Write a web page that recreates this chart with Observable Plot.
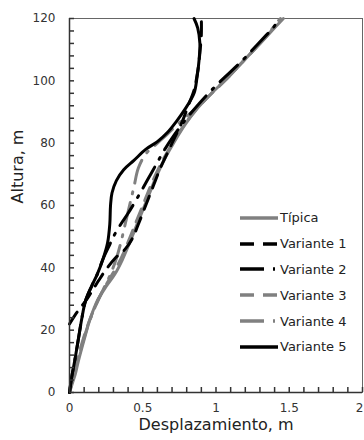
<!DOCTYPE html>
<html><head><meta charset="utf-8">
<script src="https://cdn.jsdelivr.net/npm/d3@7"></script>
<script src="https://cdn.jsdelivr.net/npm/@observablehq/plot@0.6"></script>
<style>
body{margin:0;background:#fff;font-family:"DejaVu Sans",sans-serif;}
#wrap{position:relative;width:364px;height:440px;overflow:hidden;background:#fff;}
#legend{position:absolute;left:240px;top:205px;}
.row{display:flex;align-items:center;height:25.8px;font-size:13px;color:#222;white-space:nowrap;}
.row svg{margin-right:2px;display:block;}
</style></head><body><div id="wrap"><div id="legend"></div></div>
<script>
// ---- data (displacement m, height m) ----
const seriesNames = ["Típica", "Variante 1", "Variante 2", "Variante 3", "Variante 4", "Variante 5"];
const seriesColors = ["#808080", "#000000", "#000000", "#808080", "#808080", "#000000"];
const seriesDash = [null, "14,9", "24,9,2,9", "14,9", "24,9,2,9", null];

const tipica = [[0,0],[0.02,3],[0.04,6],[0.06,10],[0.10,17],[0.14,23.5],[0.19,29.5],[0.25,34],[0.31,38],[0.36,42.5],[0.41,48],[0.47,55],[0.53,62],[0.59,69],[0.65,75],[0.71,80],[0.79,86],[0.87,91],[0.97,96],[1.08,101],[1.18,106],[1.27,110.5],[1.35,114.5],[1.41,117.5],[1.46,120]];
const variante1 = [[0,22],[0.04,25],[0.08,27.5],[0.12,30],[0.16,33],[0.20,36],[0.25,39.5],[0.31,43],[0.38,46],[0.43,49.5],[0.47,54],[0.52,60],[0.57,66],[0.62,72],[0.67,77],[0.72,82],[0.77,87],[0.81,92],[0.85,97],[0.875,103],[0.89,109],[0.90,115],[0.90,120]];
const variante2 = [[0,0],[0.015,5],[0.035,10],[0.06,17],[0.085,24],[0.11,29.5],[0.15,34],[0.19,38],[0.23,43],[0.27,47],[0.30,50],[0.35,54],[0.40,57.5],[0.47,63],[0.53,68],[0.59,73],[0.65,78],[0.72,83],[0.80,88],[0.89,93],[0.99,98],[1.09,102.5],[1.19,107],[1.27,111],[1.34,114.5],[1.39,117],[1.43,120]];
const variante3 = [[0,0],[0.02,4],[0.045,9],[0.08,15],[0.12,21],[0.17,27],[0.22,32],[0.28,37],[0.33,41],[0.38,46],[0.44,53],[0.50,60],[0.56,67],[0.62,73],[0.69,79],[0.77,85],[0.86,90.5],[0.96,95.5],[1.07,100.5],[1.17,105.5],[1.26,110],[1.34,114],[1.40,117.3],[1.44,120]];
const variante4 = [[0,0],[0.02,4],[0.05,9],[0.09,16],[0.13,22],[0.18,28],[0.23,33],[0.28,38],[0.32,43],[0.35,48],[0.38,54],[0.41,60],[0.44,66],[0.47,72],[0.52,76.5],[0.60,80],[0.67,83],[0.76,87],[0.86,91],[0.97,96],[1.08,101],[1.18,106],[1.27,110.5],[1.34,114],[1.42,119],[1.44,120]];
const variante5 = [[0,0],[0.015,5],[0.035,10],[0.06,17],[0.085,24],[0.11,29.5],[0.15,34],[0.19,38],[0.23,43],[0.26,48],[0.275,54],[0.28,60],[0.29,64],[0.32,68],[0.37,71.5],[0.44,74.5],[0.52,78],[0.60,80.5],[0.67,83.5],[0.73,87],[0.79,91],[0.85,96],[0.87,101],[0.885,107],[0.89,112],[0.875,117],[0.85,120]];

const xMajor = [0, 0.5, 1, 1.5, 2];
const xTickLabels = ["0", "0.5", "1", "1.5", "2"];
const yMajor = [0, 20, 40, 60, 80, 100, 120];
const yTickLabels = ["0", "20", "40", "60", "80", "100", "120"];
const xTitle = "Desplazamiento, m";
const yTitle = "Altura, m";

const allSeries = [tipica, variante1, variante2, variante3, variante4, variante5];
const drawOrder = [0, 3, 4, 1, 2, 5];

const xMinor = d3.range(0, 2.0001, 0.1);
const yMinor = d3.range(0, 120.001, 4);

const W = 364, H = 440, mL = 69, mR = 2, mT = 18, mB = 48;
const tickLen = 5;

const lineMarks = drawOrder.map(i => Plot.line(allSeries[i], {
  x: d => d[0], y: d => d[1],
  stroke: seriesColors[i],
  strokeWidth: 3,
  strokeDasharray: seriesDash[i] ?? undefined,
  curve: "catmull-rom"
}));

const chart = Plot.plot({
  width: W, height: H,
  marginLeft: mL, marginRight: mR, marginTop: mT, marginBottom: mB,
  style: {fontFamily: "DejaVu Sans, sans-serif", fontSize: "12px", color: "#333", background: "transparent", overflow: "visible"},
  x: {domain: [0, 2]},
  y: {domain: [0, 120]},
  marks: [
    Plot.frame({stroke: "#666", strokeWidth: 1}),
    ...lineMarks,
    Plot.tickX(xMinor, {x: d => d, insetTop: H - mT - mB - tickLen, stroke: "#333", strokeWidth: 1.5}),
    Plot.tickY(yMinor, {y: d => d, insetRight: W - mL - mR - tickLen, stroke: "#333", strokeWidth: 1.5}),
    Plot.axisX({ticks: xMajor.slice(0, 4), tickSize: 0, tickPadding: 11, tickFormat: d => xTickLabels[xMajor.indexOf(d)], label: null, fill: "#333"}),
    Plot.axisX({ticks: xMajor.slice(4), tickSize: 0, tickPadding: 11, dx: -3, tickFormat: d => xTickLabels[xMajor.indexOf(d)], label: null, fill: "#333"}),
    Plot.axisY({ticks: yMajor, tickSize: 0, tickPadding: 14, tickFormat: d => yTickLabels[yMajor.indexOf(d)], label: null, fill: "#333"}),
    Plot.ruleX([0], {stroke: "#333", strokeWidth: 1.5}),
    Plot.ruleY([0], {stroke: "#333", strokeWidth: 1.5}),
    Plot.text([xTitle], {frameAnchor: "bottom", dy: 37, fontSize: 16, fill: "#222", text: d => d}),
    Plot.text([yTitle], {frameAnchor: "left", dx: -52, dy: -2, rotate: -90, fontSize: 16, fill: "#222", text: d => d})
  ]
});
document.getElementById("wrap").prepend(chart);

// legend overlay
const legend = document.getElementById("legend");
seriesNames.forEach((name, i) => {
  const row = document.createElement("div");
  row.className = "row";
  const ns = "http://www.w3.org/2000/svg";
  const s = document.createElementNS(ns, "svg");
  s.setAttribute("width", 38); s.setAttribute("height", 8);
  const l = document.createElementNS(ns, "line");
  l.setAttribute("x1", 0); l.setAttribute("x2", 38);
  l.setAttribute("y1", 4); l.setAttribute("y2", 4);
  l.setAttribute("stroke", seriesColors[i]);
  l.setAttribute("stroke-width", 3.5);
  if (seriesDash[i]) l.setAttribute("stroke-dasharray", seriesDash[i]);
  s.appendChild(l);
  row.appendChild(s);
  const t = document.createElement("span");
  t.textContent = name;
  row.appendChild(t);
  legend.appendChild(row);
});
</script>
</body></html>
